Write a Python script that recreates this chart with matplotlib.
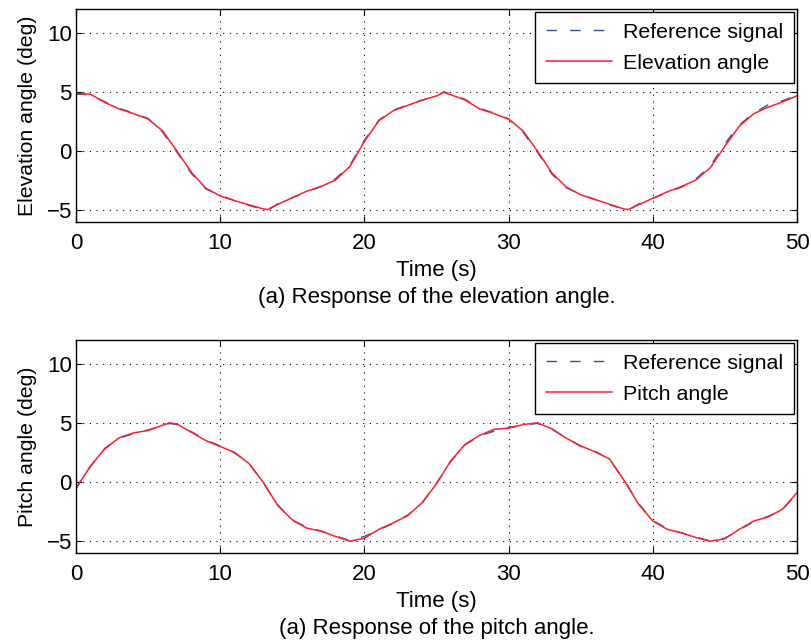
import matplotlib
matplotlib.use('Agg')
from matplotlib import pyplot as plt

plt.rcParams['font.family'] = ['Liberation Sans', 'DejaVu Sans']

# time axis (s)
t = [0, 1, 2, 3, 4, 5, 6, 7, 8, 9, 10, 11, 12, 13, 13.3, 14, 15, 16, 17, 18, 19,
     20, 21, 22, 23, 24, 25, 25.5, 26, 27, 28, 29, 30, 31, 32, 33, 34, 35, 36,
     37, 38, 38.3, 39, 40, 41, 42, 43, 44, 45, 46, 47, 48, 49, 50]

elev_ref = [4.8, 4.75, 4.15, 3.6, 3.2, 2.75, 1.6, -0.1, -1.9, -3.2, -3.75, -4.2,
            -4.6, -4.95, -5.0, -4.45, -3.95, -3.45, -3.0, -2.35, -1.2, 0.9, 2.6,
            3.45, 3.9, 4.3, 4.6, 5.0, 4.8, 4.35, 3.6, 3.2, 2.7, 1.6, -0.1, -1.95,
            -3.1, -3.7, -4.1, -4.55, -4.9, -5.0, -4.5, -4.0, -3.5, -3.05, -2.35,
            -1.25, 0.6, 2.2, 3.2, 3.9, 4.25, 4.7]
elev_meas = [4.85, 4.8, 4.1, 3.55, 3.15, 2.7, 1.7, 0.0, -1.8, -3.15, -3.8, -4.2,
             -4.55, -4.9, -4.95, -4.5, -3.95, -3.4, -3.0, -2.45, -1.3, 0.8, 2.55,
             3.4, 3.85, 4.3, 4.65, 4.95, 4.75, 4.3, 3.55, 3.15, 2.7, 1.7, 0.0,
             -1.85, -3.05, -3.7, -4.1, -4.5, -4.9, -4.95, -4.55, -4.0, -3.45,
             -3.0, -2.45, -1.4, 0.4, 2.1, 3.15, 3.7, 4.15, 4.65]

t2 = [0, 0.5, 1, 2, 3, 4, 5, 6, 6.5, 7, 8, 9, 10, 11, 12, 13, 14, 15, 16, 17,
      18, 19, 20, 21, 22, 23, 24, 25, 26, 27, 28, 29, 30, 31, 32, 33, 34, 35,
      36, 37, 38, 39, 40, 41, 42, 43, 44, 45, 46, 47, 48, 49, 50]
pitch_ref = [-0.6, 0.45, 1.3, 2.85, 3.7, 4.1, 4.4, 4.75, 4.95, 4.85, 4.25, 3.55,
             3.05, 2.45, 1.6, -0.1, -1.95, -3.25, -3.8, -4.15, -4.55, -4.95,
             -4.6, -4.05, -3.5, -2.8, -1.8, -0.1, 1.75, 3.15, 3.9, 4.3, 4.6, 4.8,
             4.95, 4.45, 3.75, 3.0, 2.6, 1.9, 0.2, -1.8, -3.25, -3.95, -4.3,
             -4.65, -5.0, -4.75, -4.05, -3.35, -2.9, -2.35, -0.95]
pitch_meas = [-0.55, 0.4, 1.35, 2.8, 3.75, 4.15, 4.35, 4.8, 5.0, 4.9, 4.2, 3.5,
              3.0, 2.5, 1.55, -0.05, -2.0, -3.2, -3.9, -4.15, -4.6, -5.0, -4.75,
              -4.0, -3.45, -2.85, -1.75, -0.15, 1.8, 3.2, 3.95, 4.45, 4.55, 4.85,
              5.0, 4.5, 3.7, 3.05, 2.55, 1.95, 0.15, -1.85, -3.3, -4.0, -4.3,
              -4.7, -5.0, -4.8, -4.0, -3.3, -2.95, -2.3, -0.9]

panels = [
    (t, elev_ref, elev_meas, 'Elevation angle', 'Elevation angle (deg)',
     '(a) Response of the elevation angle.'),
    (t2, pitch_ref, pitch_meas, 'Pitch angle', 'Pitch angle (deg)',
     '(a) Response of the pitch angle.'),
]

fig = plt.figure(figsize=(8.11, 6.41), dpi=100)
rects = [[0.0937, 0.6537, 0.889, 0.3323], [0.0937, 0.1373, 0.889, 0.3323]]

for rect, (tt, ref, meas, name, ylab, caption) in zip(rects, panels):
    ax = fig.add_axes(rect)
    ax.plot(tt, ref, color='#2d4fae', linestyle=(0, (7.5, 9.5)), linewidth=1.0,
            label='Reference signal')
    ax.plot(tt, meas, color='#ff1f2a', linewidth=1.1, label=name)
    ax.set_xlim(0, 50)
    ax.set_ylim(-6, 12)
    ax.set_xticks([0, 10, 20, 30, 40, 50])
    ax.set_yticks([-5, 0, 5, 10])
    ax.set_yticklabels(['\u22125', '0', '5', '10'])
    ax.grid(True, color='black', linestyle=(0, (1, 5)), linewidth=0.8)
    ax.tick_params(direction='in', top=True, right=True, labelsize=16,
                   length=4, width=0.8)
    ax.tick_params(axis='x', pad=8)
    ax.tick_params(axis='y', pad=3)
    for s in ax.spines.values():
        s.set_linewidth(1.0)
    ax.set_xlabel('Time (s)', fontsize=16, labelpad=4)
    ax.set_ylabel(ylab, fontsize=15.3, labelpad=7)
    ax.text(0.5, -0.355, caption, transform=ax.transAxes, ha='center',
            va='center', fontsize=16)
    leg = ax.legend(loc='upper right', fontsize=15.4, fancybox=False,
                    framealpha=1, edgecolor='black', borderaxespad=0.15,
                    handlelength=3.1, handletextpad=0.5, borderpad=0.5,
                    labelspacing=0.55)
    leg.get_frame().set_linewidth(1.0)

fig.savefig('out.png', dpi=100)
